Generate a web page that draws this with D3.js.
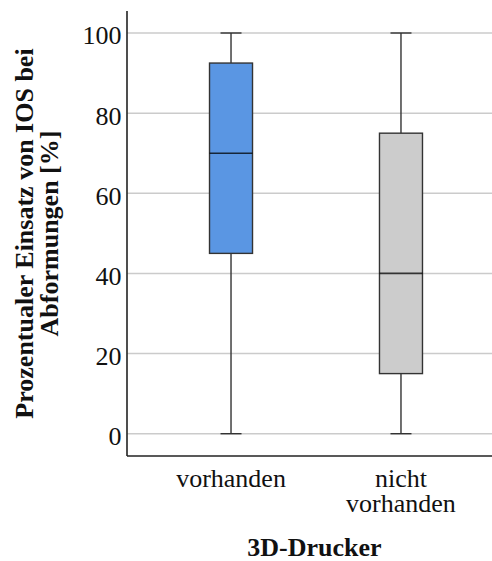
<!DOCTYPE html>
<html>
<head>
<meta charset="utf-8">
<script src="https://cdn.jsdelivr.net/npm/d3@7"></script>
<style>
  html, body { margin: 0; padding: 0; background: #fff; }
  svg text { font-family: "Liberation Serif", "Times New Roman", serif; fill: #111; }
</style>
</head>
<body>
<svg id="chart" width="492" height="561"></svg>
<script>
// Box plot summaries per group: whisker low, Q1, median, Q3, whisker high
const categories = ["vorhanden", "nicht vorhanden"];
const categoryLines = [["vorhanden"], ["nicht", "vorhanden"]];
const whiskerLow = [0, 0];
const q1 = [45, 15];
const median = [70, 40];
const q3 = [92.5, 75];
const whiskerHigh = [100, 100];
const boxColors = ["#5a96e3", "#cccccc"];
const yTicks = [0, 20, 40, 60, 80, 100];
const yTitleLines = ["Prozentualer Einsatz von IOS bei", "Abformungen [%]"];
const xTitle = "3D-Drucker";

const svg = d3.select("#chart");
const W = 492;
const plot = { left: 127, right: 492, top: 11, bottom: 456 };

const y = d3.scaleLinear().domain([0, 100]).range([433.7, 33]);
const x = d3.scalePoint().domain(categories).range([127, 505]).padding(0.612);

const boxW = 43, capW = 21;

// Horizontal gridlines
svg.append("g")
  .selectAll("line")
  .data(yTicks)
  .join("line")
  .attr("x1", plot.left).attr("x2", plot.right)
  .attr("y1", d => y(d)).attr("y2", d => y(d))
  .attr("stroke", "#cbcbcb").attr("stroke-width", 1.5);

// Y tick labels via d3 axis (domain & tick lines hidden)
const yAxis = svg.append("g")
  .attr("transform", `translate(${plot.left - 5.5},0)`)
  .call(d3.axisLeft(y).tickValues(yTicks).tickSize(0).tickPadding(0));
yAxis.select(".domain").remove();
yAxis.selectAll("text")
  .attr("font-size", 26)
  .attr("font-family", "Liberation Serif")
  .attr("fill", "#111")
  .attr("dy", "0.42em");

// Boxes
const data = categories.map((c, i) => ({
  c, lo: whiskerLow[i], q1: q1[i], med: median[i], q3: q3[i], hi: whiskerHigh[i], color: boxColors[i]
}));

const g = svg.append("g").selectAll("g").data(data).join("g");

// whisker stems
g.append("line")
  .attr("x1", d => x(d.c)).attr("x2", d => x(d.c))
  .attr("y1", d => y(d.hi)).attr("y2", d => y(d.q3))
  .attr("stroke", "#333").attr("stroke-width", 1.4);
g.append("line")
  .attr("x1", d => x(d.c)).attr("x2", d => x(d.c))
  .attr("y1", d => y(d.q1)).attr("y2", d => y(d.lo))
  .attr("stroke", "#333").attr("stroke-width", 1.4);
// whisker caps
g.append("line")
  .attr("x1", d => x(d.c) - capW / 2).attr("x2", d => x(d.c) + capW / 2)
  .attr("y1", d => y(d.hi)).attr("y2", d => y(d.hi))
  .attr("stroke", "#333").attr("stroke-width", 1.4);
g.append("line")
  .attr("x1", d => x(d.c) - capW / 2).attr("x2", d => x(d.c) + capW / 2)
  .attr("y1", d => y(d.lo)).attr("y2", d => y(d.lo))
  .attr("stroke", "#333").attr("stroke-width", 1.4);
// box
g.append("rect")
  .attr("x", d => x(d.c) - boxW / 2)
  .attr("width", boxW)
  .attr("y", d => y(d.q3))
  .attr("height", d => y(d.q1) - y(d.q3))
  .attr("fill", d => d.color)
  .attr("stroke", "#333").attr("stroke-width", 1.4);
// median
g.append("line")
  .attr("x1", d => x(d.c) - boxW / 2).attr("x2", d => x(d.c) + boxW / 2)
  .attr("y1", d => y(d.med)).attr("y2", d => y(d.med))
  .attr("stroke", "#000").attr("stroke-opacity", 0.75).attr("stroke-width", 1.6);

// Axis lines
svg.append("line")
  .attr("x1", plot.left).attr("x2", plot.left)
  .attr("y1", plot.top).attr("y2", plot.bottom)
  .attr("stroke", "#222").attr("stroke-width", 1.6);
svg.append("line")
  .attr("x1", plot.left).attr("x2", plot.right)
  .attr("y1", plot.bottom).attr("y2", plot.bottom)
  .attr("stroke", "#222").attr("stroke-width", 1.6);

// Category labels
categories.forEach((c, i) => {
  const t = svg.append("text")
    .attr("text-anchor", "middle")
    .attr("font-size", 26)
    .attr("x", x(c))
    .attr("y", 486.5);
  categoryLines[i].forEach((line, j) => {
    t.append("tspan").attr("x", x(c)).attr("dy", j === 0 ? 0 : 25).text(line);
  });
});

// X axis title
svg.append("text")
  .attr("x", 314.5).attr("y", 556)
  .attr("text-anchor", "middle")
  .attr("font-size", 26)
  .attr("font-weight", "bold")
  .text(xTitle);

// Y axis title (rotated, two lines)
const yt = svg.append("text")
  .attr("transform", "translate(33,233.5) rotate(-90)")
  .attr("text-anchor", "middle")
  .attr("font-size", 26)
  .attr("font-weight", "bold");
yTitleLines.forEach((line, j) => {
  yt.append("tspan").attr("x", 0).attr("dy", j === 0 ? 0 : 25).text(line);
});
</script>
</body>
</html>
